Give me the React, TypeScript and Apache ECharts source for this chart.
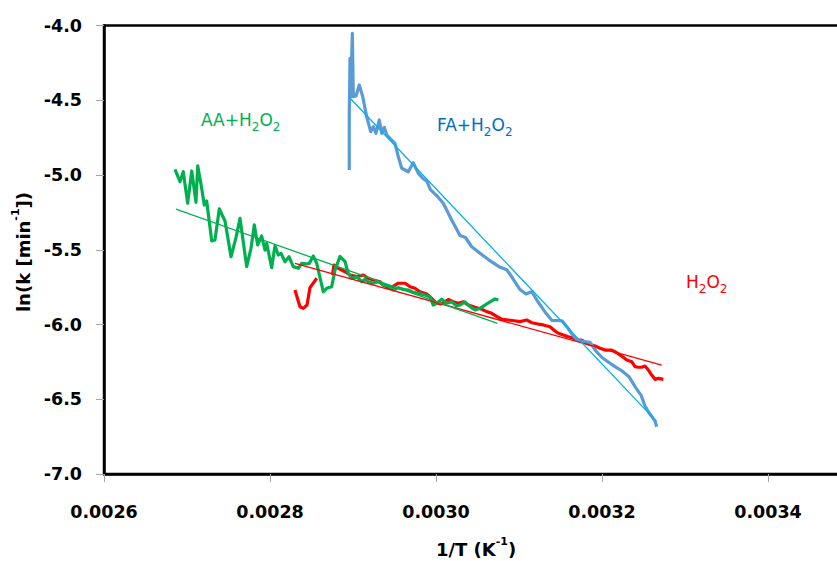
import React, { useEffect, useRef } from "react";
import * as echarts from "echarts";

// ---- data ----
const xTicks = { min: 0.0026, max: 0.0036, interval: 0.0002 };
const yTicks = { min: -7.0, max: -4.0, interval: 0.5 };

// AA + H2O2 (green)
const aaData: [number, number][] = [
  [0.0026855, -4.962], [0.0026916, -5.045], [0.0026955, -4.978], [0.0027008, -5.189],
  [0.0027057, -4.973], [0.0027108, -5.183], [0.0027129, -4.938], [0.0027177, -5.089],
  [0.0027208, -5.201], [0.0027237, -5.174], [0.0027298, -5.441], [0.0027337, -5.435],
  [0.0027389, -5.227], [0.0027458, -5.308], [0.002753, -5.547], [0.002759, -5.419],
  [0.0027639, -5.29], [0.0027719, -5.613], [0.0027771, -5.49], [0.0027811, -5.334],
  [0.0027852, -5.468], [0.00279, -5.408], [0.002794, -5.502], [0.002796, -5.457],
  [0.002802, -5.62], [0.002806, -5.473], [0.00281, -5.535], [0.0028133, -5.524],
  [0.0028181, -5.58], [0.0028229, -5.547], [0.0028281, -5.613], [0.0028341, -5.624],
  [0.0028382, -5.591], [0.0028434, -5.595], [0.0028473, -5.591], [0.0028522, -5.542],
  [0.0028563, -5.591], [0.0028642, -5.781], [0.0028683, -5.758], [0.0028743, -5.747],
  [0.0028783, -5.636], [0.0028843, -5.545], [0.0028904, -5.58], [0.0028943, -5.658],
  [0.0028984, -5.691], [0.0029045, -5.68], [0.0029105, -5.714], [0.0029145, -5.698],
  [0.0029184, -5.714], [0.0029245, -5.724], [0.0029305, -5.714], [0.0029365, -5.736],
  [0.0029425, -5.742], [0.0029486, -5.769], [0.0029546, -5.754], [0.0029606, -5.765],
  [0.0029666, -5.769], [0.0029726, -5.785], [0.0029783, -5.791], [0.0029867, -5.803],
  [0.0029928, -5.814], [0.0029967, -5.87], [0.0030008, -5.858], [0.0030069, -5.831],
  [0.0030129, -5.858], [0.0030189, -5.848], [0.0030249, -5.876], [0.0030289, -5.87],
  [0.0030349, -5.848], [0.003041, -5.881], [0.003047, -5.903], [0.003053, -5.892],
  [0.003059, -5.87], [0.0030651, -5.848], [0.0030711, -5.829], [0.0030751, -5.836],
];

// H2O2 (red), first short piece and main piece
const h2o2DataA: [number, number][] = [
  [0.0028301, -5.769], [0.0028361, -5.881], [0.0028401, -5.892], [0.0028446, -5.87],
  [0.0028482, -5.753], [0.0028563, -5.691],
];
const h2o2DataB: [number, number][] = [
  [0.0028753, -5.669], [0.0028771, -5.602], [0.0028823, -5.624], [0.0028904, -5.647],
  [0.0028964, -5.669], [0.0029045, -5.68], [0.0029124, -5.669], [0.0029184, -5.691],
  [0.0029245, -5.702], [0.0029325, -5.714], [0.0029365, -5.736], [0.0029446, -5.758],
  [0.0029546, -5.724], [0.0029627, -5.724], [0.0029687, -5.747], [0.0029747, -5.758],
  [0.0029807, -5.781], [0.0029888, -5.796], [0.0029948, -5.825], [0.0030008, -5.858],
  [0.0030069, -5.863], [0.0030148, -5.833], [0.0030208, -5.848], [0.0030269, -5.858],
  [0.0030329, -5.848], [0.0030389, -5.87], [0.003047, -5.885], [0.0030551, -5.898],
  [0.0030611, -5.914], [0.0030671, -5.925], [0.0030731, -5.946], [0.0030792, -5.965],
  [0.0030871, -5.97], [0.003094, -5.975], [0.0031012, -5.981], [0.0031093, -5.97],
  [0.0031153, -5.988], [0.0031232, -5.997], [0.0031293, -6.003], [0.0031373, -6.015],
  [0.0031434, -6.043], [0.0031474, -6.059], [0.0031534, -6.07], [0.0031594, -6.082],
  [0.0031654, -6.092], [0.0031714, -6.104], [0.0031755, -6.104], [0.0031816, -6.126],
  [0.0031876, -6.137], [0.0031916, -6.144], [0.0031976, -6.159], [0.0032036, -6.171],
  [0.0032117, -6.171], [0.0032177, -6.189], [0.0032237, -6.211], [0.0032298, -6.237],
  [0.0032358, -6.249], [0.0032398, -6.282], [0.0032437, -6.286], [0.0032478, -6.286],
  [0.0032518, -6.278], [0.0032558, -6.304], [0.0032599, -6.338], [0.0032639, -6.367],
  [0.0032679, -6.36], [0.0032739, -6.367],
];

// FA + H2O2 (blue)
const faData: [number, number][] = [
  [0.0028955, -4.967], [0.0028955, -4.61], [0.0028964, -4.219], [0.0028972, -4.476],
  [0.0028992, -4.052], [0.0029004, -4.476], [0.0029036, -4.472], [0.0029076, -4.398],
  [0.0029117, -4.476], [0.0029165, -4.61], [0.0029213, -4.71], [0.0029245, -4.677],
  [0.0029277, -4.721], [0.0029317, -4.632], [0.0029346, -4.721], [0.0029377, -4.681],
  [0.0029406, -4.732], [0.0029466, -4.766], [0.0029506, -4.788], [0.0029546, -4.878],
  [0.0029587, -4.955], [0.0029666, -4.978], [0.0029726, -4.918], [0.0029787, -4.989],
  [0.002984, -5.022], [0.0029895, -5.045], [0.0029928, -5.094], [0.0030028, -5.15],
  [0.0030088, -5.189], [0.0030189, -5.301], [0.0030289, -5.405], [0.0030355, -5.418],
  [0.003043, -5.48], [0.0030542, -5.528], [0.0030639, -5.569], [0.0030759, -5.613],
  [0.0030852, -5.633], [0.0030922, -5.689], [0.0031012, -5.766], [0.0031084, -5.796],
  [0.0031153, -5.781], [0.0031229, -5.848], [0.0031325, -5.925], [0.0031398, -5.973],
  [0.0031518, -5.975], [0.0031584, -6.02], [0.0031645, -6.07], [0.0031705, -6.104],
  [0.0031783, -6.115], [0.0031855, -6.12], [0.0031922, -6.174], [0.0032, -6.221],
  [0.0032084, -6.254], [0.0032157, -6.282], [0.0032235, -6.308], [0.0032325, -6.349],
  [0.0032404, -6.421], [0.003247, -6.472], [0.0032518, -6.545], [0.0032578, -6.599],
  [0.0032639, -6.646], [0.0032659, -6.684],
];

// linear trend lines (end points)
const aaTrend: [number, number][] = [[0.0026867, -5.229], [0.0030739, -5.992]];
const h2o2Trend: [number, number][] = [[0.0028301, -5.591], [0.0032719, -6.271]];
const faTrend: [number, number][] = [[0.0028955, -4.48], [0.0032659, -6.65]];

const FONT = "DejaVu Sans";

export default function App() {
  const ref = useRef<HTMLDivElement>(null);

  useEffect(() => {
    document.body.style.margin = "0";
    if (!ref.current) return;
    const chart = echarts.init(ref.current, undefined, { renderer: "svg" });

    const chemRich = (color: string) => ({
      n: { fontFamily: FONT, fontSize: 17, fill: color, lineHeight: 26 },
      s: { fontFamily: FONT, fontSize: 12, fill: color, lineHeight: 13, verticalAlign: "bottom" },
    });
    const nameRich = {
      n: { fontFamily: FONT, fontSize: 18, fontWeight: "bold", fill: "#000", lineHeight: 26 },
      p: { fontFamily: FONT, fontSize: 11, fontWeight: "bold", fill: "#000", lineHeight: 13, verticalAlign: "top" },
    };

    const lineSeries = (name: string, data: [number, number][], color: string, width: number, z: number) => ({
      name,
      type: "line",
      data,
      showSymbol: false,
      symbol: "none",
      lineStyle: { color, width, join: "round" },
      itemStyle: { color },
      z,
      silent: true,
    });

    chart.setOption({
      animation: false,
      backgroundColor: "#fff",
      grid: {
        left: 104,
        top: 25.5,
        width: 830,
        height: 448.5,
        show: true,
        borderColor: "#000",
        borderWidth: 2.5,
        containLabel: false,
      },
      xAxis: {
        type: "value",
        min: xTicks.min,
        max: xTicks.max,
        interval: xTicks.interval,
        axisLine: { show: true, lineStyle: { color: "#000", width: 2.5 } },
        axisTick: { show: true, length: 8, lineStyle: { color: "#A6A6A6", width: 1 } },
        splitLine: { show: false },
        axisLabel: {
          margin: 29,
          fontFamily: FONT,
          fontSize: 17.5,
          fontWeight: "bold",
          color: "#000",
          showMaxLabel: false,
          formatter: (v: number) => (v > 0.00355 ? "" : v.toFixed(4)),
        },
      },
      yAxis: {
        type: "value",
        min: yTicks.min,
        max: yTicks.max,
        interval: yTicks.interval,
        axisLine: { show: true, lineStyle: { color: "#000", width: 2.5 } },
        axisTick: { show: true, length: 8, lineStyle: { color: "#A6A6A6", width: 1 } },
        splitLine: { show: false },
        axisLabel: {
          margin: 22,
          fontFamily: FONT,
          fontSize: 17.5,
          fontWeight: "bold",
          color: "#000",
          formatter: (v: number) => v.toFixed(1),
        },
      },
      series: [
        lineSeries("H2O2", h2o2DataA, "#FF0000", 3.2, 2),
        lineSeries("H2O2 b", h2o2DataB, "#FF0000", 3.2, 2),
        lineSeries("FA+H2O2", faData, "#5B9BD5", 3.2, 2),
        lineSeries("AA+H2O2", aaData, "#00B050", 3.2, 3),
        lineSeries("H2O2 trend", h2o2Trend, "#FF0000", 1.3, 4),
        lineSeries("FA trend", faTrend, "#00B0F0", 1.3, 4),
        lineSeries("AA trend", aaTrend, "#00B050", 1.3, 4),
      ],
      graphic: [
        {
          type: "text",
          x: 201,
          y: 120,
          z: 10,
          style: {
            text: "{n|AA+H}{s|2}{n|O}{s|2}",
            rich: chemRich("#00B050"),
            fill: "#00B050",
            align: "left",
            verticalAlign: "middle",
          },
        },
        {
          type: "text",
          x: 437,
          y: 125,
          z: 10,
          style: {
            text: "{n|FA+H}{s|2}{n|O}{s|2}",
            rich: chemRich("#0070C0"),
            fill: "#0070C0",
            align: "left",
            verticalAlign: "middle",
          },
        },
        {
          type: "text",
          x: 686,
          y: 282,
          z: 10,
          style: {
            text: "{n|H}{s|2}{n|O}{s|2}",
            rich: chemRich("#FF0000"),
            fill: "#FF0000",
            align: "left",
            verticalAlign: "middle",
          },
        },
        {
          type: "text",
          x: 476,
          y: 549,
          z: 10,
          style: {
            text: "{n|1/T (K}{p|-1}{n|)}",
            rich: nameRich,
            align: "center",
            verticalAlign: "middle",
          },
        },
        {
          type: "text",
          x: 23,
          y: 252,
          rotation: Math.PI / 2,
          z: 10,
          style: {
            text: "{n|ln(k [min}{p|-1}{n|])}",
            rich: nameRich,
            align: "center",
            verticalAlign: "middle",
          },
        },
      ],
    });

    return () => chart.dispose();
  }, []);

  return (
    <div style={{ width: 837, height: 561, overflow: "hidden", position: "relative" }}>
      <div ref={ref} style={{ width: 960, height: 561 }} />
    </div>
  );
}
